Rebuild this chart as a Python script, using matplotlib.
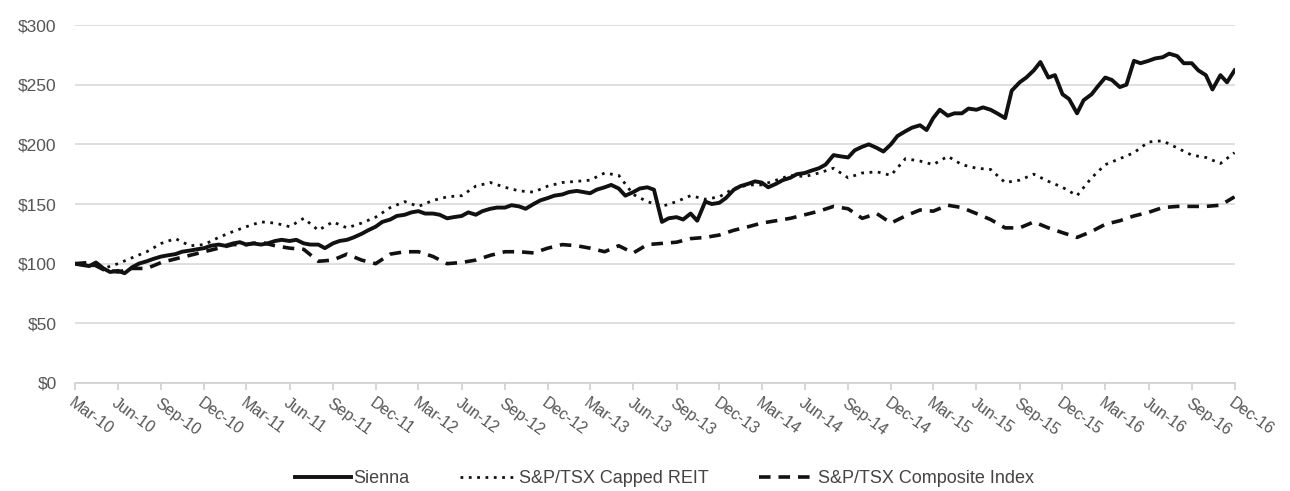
import numpy as np
import pandas as pd
import matplotlib
matplotlib.use("Agg")
import matplotlib.pyplot as plt

plt.rcParams['font.family'] = ['Liberation Sans', 'DejaVu Sans']

# Sienna, semi-monthly (1st and 15th), Mar-10 .. Dec-16
sienna_dates = pd.date_range('2010-03-01', '2016-12-01', freq='SMS')
sienna = [100, 99, 98, 101, 96, 93, 94, 92, 97, 100,
          102, 104, 106, 107, 108, 110, 111, 112, 113, 115,
          116, 115, 117, 118, 116, 117, 116, 117, 119, 120,
          119, 120, 117, 116, 116, 113, 117, 119, 120, 122,
          125, 128, 131, 135, 137, 140, 141, 143, 144, 142,
          142, 141, 138, 139, 140, 143, 141, 144, 146, 147,
          147, 149, 148, 146, 150, 153, 155, 157, 158, 160,
          161, 160, 159, 162, 164, 166, 163, 157, 160, 163,
          164, 162, 135, 138, 139, 137, 142, 136, 152, 150,
          151, 155, 162, 165, 167, 169, 168, 164, 167, 170,
          172, 175, 176, 178, 180, 183, 191, 190, 189, 195,
          198, 200, 197, 194, 200, 207, 211, 214, 216, 212,
          222, 229, 224, 226, 226, 230, 229, 231, 229, 226,
          222, 245, 252, 256, 262, 269, 256, 258, 242, 238,
          226, 237, 242, 249, 256, 254, 248, 250, 270, 268,
          270, 272, 273, 276, 274, 268, 268, 262, 258, 246,
          258, 252, 262]

# index series, monthly, Mar-10 .. Dec-16
index_dates = pd.date_range('2010-03-01', '2016-12-01', freq='MS')
reit = [100, 99, 96, 100, 105, 110, 117, 121, 115, 116,
        122, 127, 131, 135, 134, 131, 138, 128, 135, 130,
        134, 139, 147, 152, 148, 153, 156, 157, 165, 168,
        164, 161, 160, 165, 168, 169, 170, 176, 174, 158,
        152, 148, 152, 157, 154, 156, 163, 166, 166, 170,
        174, 173, 176, 180, 172, 176, 177, 174, 188, 186,
        183, 190, 183, 180, 179, 168, 170, 175, 169, 164,
        157, 172, 183, 188, 193, 202, 203, 197, 191, 189,
        184, 193]
composite = [100, 101, 95, 93, 96, 96, 101, 104, 107, 110,
             113, 116, 116, 118, 115, 113, 112, 102, 103, 108,
             103, 100, 108, 110, 110, 106, 100, 101, 103, 107,
             110, 110, 109, 113, 116, 115, 113, 110, 115, 109,
             116, 117, 118, 121, 122, 124, 128, 131, 134, 136,
             138, 141, 144, 148, 146, 138, 142, 134, 140, 145,
             144, 149, 147, 142, 137, 130, 130, 135, 130, 126,
             122, 127, 133, 136, 140, 143, 147, 148, 148, 148,
             149, 156]

tick_dates = pd.date_range('2010-03-01', '2016-12-01', freq='QS-MAR')
tick_labels = [d.strftime('%b-%y') for d in tick_dates]

fig = plt.figure(figsize=(12.9, 4.91), dpi=100)
ax = fig.add_axes([0.058, 0.22, 0.899, 0.729])

ax.plot(sienna_dates, sienna, color='#111111', lw=2.8, label='Sienna')
ax.plot(index_dates, reit, color='#111111', lw=2.0, linestyle=(0, (1, 2.0)),
        label='S&P/TSX Capped REIT')
ax.plot(index_dates, composite, color='#111111', lw=2.6, linestyle=(0, (3.2, 2.2)),
        label='S&P/TSX Composite Index')

ax.set_xlim(tick_dates[0], tick_dates[-1])
ax.set_ylim(0, 300)
ax.set_yticks(range(0, 301, 50))
ax.set_yticklabels(['$%d' % v for v in range(0, 301, 50)])
ax.set_xticks(tick_dates)
ax.set_xticklabels(tick_labels, rotation=-36, ha='left', va='top',
                   rotation_mode='anchor')

ax.grid(axis='y', color='#d9d9d9', lw=1.2)
ax.set_axisbelow(True)
for s in ['left', 'right', 'top']:
    ax.spines[s].set_visible(False)
ax.spines['bottom'].set_color('#d0d0d0')
ax.spines['bottom'].set_linewidth(1.2)
ax.tick_params(axis='y', length=0, pad=13, labelsize=12.5, labelcolor='#555555')
ax.tick_params(axis='x', length=5, color='#d0d0d0', width=1.2, pad=4,
               labelsize=11.5, labelcolor='#555555')

fig.legend(loc='center', bbox_to_anchor=(0.515, 0.025), ncol=3, frameon=False,
           fontsize=13, handlelength=3.1, columnspacing=2.8, handletextpad=0.15,
           labelcolor='#444444')

fig.savefig('out.png', dpi=100)
